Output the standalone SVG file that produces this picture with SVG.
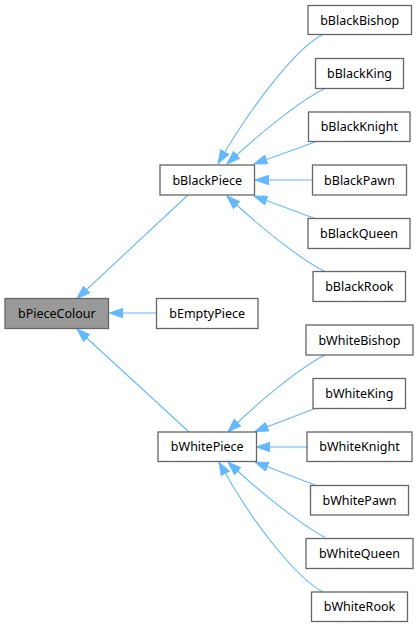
<svg xmlns="http://www.w3.org/2000/svg" width="419" height="627" viewBox="0 0 419 627">
<style>
.n rect{fill:#ffffff;stroke:#666666;stroke-width:1.3}
.n.root rect{fill:#999999}
.n text{font-family:"Noto Sans","Open Sans",sans-serif;font-size:12.5px;fill:#000000;text-anchor:middle}
.e path{fill:none;stroke:#63b8ff;stroke-width:1.1;marker-end:url(#ah)}
</style>
<defs>
<marker id="ah" markerUnits="userSpaceOnUse" viewBox="0 0 14 10" markerWidth="14" markerHeight="10" refX="13.5" refY="5" orient="auto">
<path d="M0,0.3 L13.5,5 L0,9.7 Z" fill="#63b8ff" stroke="#63b8ff" stroke-width="1"/>
</marker>
</defs>
<g id="edges" class="e">
<path d="M188,195 L77,298.5"/>
<path d="M156,313 L109.5,313"/>
<path d="M189,432 L77,329"/>
<path d="M322,35 C300,46 258,95 218,163.5"/>
<path d="M325,88.5 C305,98 265,128 227,164"/>
<path d="M315,142 L254,164"/>
<path d="M312.5,180 L255,180"/>
<path d="M315,218.5 L254,196"/>
<path d="M325,271.5 C305,262 265,232 227,196"/>
<path d="M325,355 C305,365 265,395 228,432"/>
<path d="M315,408.5 L255,431.5"/>
<path d="M307,447 L256.5,447"/>
<path d="M315,485 L255,462"/>
<path d="M325,537.5 C305,527 265,497 228,462"/>
<path d="M323,592 C300,580 256,530 219,462"/>
</g>
<g id="bPieceColour" class="n root"><rect x="5" y="298.5" width="103.5" height="30"/><text x="56.8" y="317.5">bPieceColour</text></g>
<g id="bEmptyPiece" class="n"><rect x="156.5" y="298.5" width="101.5" height="30"/><text x="207.2" y="317.5">bEmptyPiece</text></g>
<g id="bBlackPiece" class="n"><rect x="160" y="165" width="94.5" height="30"/><text x="207.2" y="184.5">bBlackPiece</text></g>
<g id="bWhitePiece" class="n"><rect x="158" y="432" width="98.5" height="29.5"/><text x="207.2" y="451.3">bWhitePiece</text></g>
<g id="bBlackBishop" class="n"><rect x="308" y="5.5" width="103.5" height="29"/><text x="359.7" y="24.5">bBlackBishop</text></g>
<g id="bBlackKing" class="n"><rect x="315.5" y="58.5" width="88" height="30"/><text x="359.5" y="78">bBlackKing</text></g>
<g id="bBlackKnight" class="n"><rect x="308.5" y="112" width="101.5" height="29.5"/><text x="359.3" y="131.2">bBlackKnight</text></g>
<g id="bBlackPawn" class="n"><rect x="312.5" y="165" width="94" height="30"/><text x="359.5" y="184.5">bBlackPawn</text></g>
<g id="bBlackQueen" class="n"><rect x="308" y="218.5" width="102" height="30"/><text x="359" y="238">bBlackQueen</text></g>
<g id="bBlackRook" class="n"><rect x="313" y="271.5" width="92.5" height="30"/><text x="359.3" y="291">bBlackRook</text></g>
<g id="bWhiteBishop" class="n"><rect x="306" y="325" width="107" height="30"/><text x="359.5" y="344.5">bWhiteBishop</text></g>
<g id="bWhiteKing" class="n"><rect x="313" y="378.5" width="92.5" height="30"/><text x="359.3" y="398">bWhiteKing</text></g>
<g id="bWhiteKnight" class="n"><rect x="307" y="432" width="105" height="29.5"/><text x="359.5" y="451.3">bWhiteKnight</text></g>
<g id="bWhitePawn" class="n"><rect x="310.5" y="485.5" width="98" height="29.5"/><text x="359.5" y="504.8">bWhitePawn</text></g>
<g id="bWhiteQueen" class="n"><rect x="306" y="538.5" width="107" height="30"/><text x="359.5" y="558">bWhiteQueen</text></g>
<g id="bWhiteRook" class="n"><rect x="311.5" y="592" width="96" height="29.5"/><text x="359.5" y="611.3">bWhiteRook</text></g>
</svg>
